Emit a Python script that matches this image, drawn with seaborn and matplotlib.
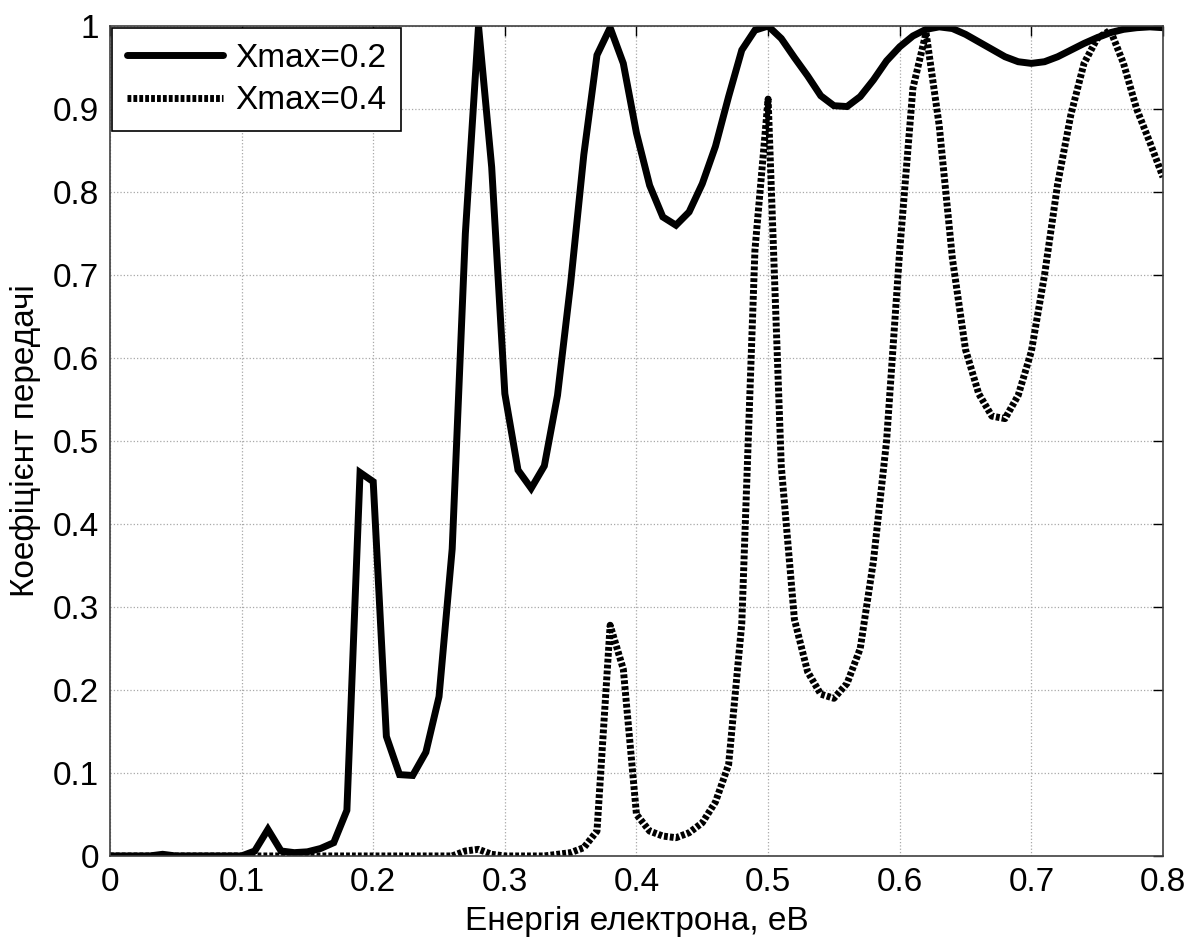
# Transmission coefficient vs electron energy for two barrier widths
import numpy as np
import pandas as pd
import matplotlib
matplotlib.use("Agg")
import matplotlib.pyplot as plt
import seaborn as sns

# energy grid, eV (sampling step 0.01)
energy = np.linspace(0, 0.8, 81)

# transmission for Xmax=0.2
coef_02 = [
    0, 0, 0, 0, 0.002, 0, 0, 0, 0, 0, 0,
    0.006, 0.032, 0.006, 0.004, 0.005, 0.009, 0.016, 0.055, 0.462, 0.451,
    0.144, 0.098, 0.097, 0.125, 0.192, 0.37, 0.75, 1.0, 0.83, 0.557,
    0.465, 0.443, 0.47, 0.555, 0.69, 0.845, 0.965, 0.998, 0.955, 0.871,
    0.808, 0.77, 0.76, 0.776, 0.81, 0.855, 0.915, 0.971, 0.995, 1.0,
    0.985, 0.962, 0.94, 0.916, 0.904, 0.903, 0.915, 0.935, 0.958, 0.975,
    0.988, 0.996, 0.999, 0.997, 0.99, 0.981, 0.972, 0.963, 0.957, 0.955,
    0.957, 0.963, 0.971, 0.979, 0.986, 0.992, 0.996, 0.998, 0.999, 0.998,
]

# transmission for Xmax=0.4
coef_04 = [
    0, 0, 0, 0, 0, 0, 0, 0, 0, 0, 0,
    0, 0, 0, 0, 0, 0, 0, 0, 0, 0,
    0, 0, 0, 0, 0, 0, 0.006, 0.008, 0.002, 0,
    0, 0, 0, 0.002, 0.004, 0.01, 0.03, 0.278, 0.225, 0.05,
    0.03, 0.024, 0.022, 0.028, 0.04, 0.065, 0.11, 0.28, 0.73, 0.912,
    0.47, 0.285, 0.222, 0.195, 0.19, 0.208, 0.25, 0.355, 0.50, 0.73,
    0.925, 0.992, 0.88, 0.72, 0.61, 0.557, 0.53, 0.527, 0.555, 0.608,
    0.70, 0.81, 0.893, 0.955, 0.985, 0.995, 0.955, 0.9, 0.86, 0.818,
]

series_names = ["Xmax=0.2", "Xmax=0.4"]
x_ticks = [0, 0.1, 0.2, 0.3, 0.4, 0.5, 0.6, 0.7, 0.8]
y_ticks = [0, 0.1, 0.2, 0.3, 0.4, 0.5, 0.6, 0.7, 0.8, 0.9, 1]

df = pd.DataFrame({
    "energy": np.concatenate([energy, energy]),
    "coef": coef_02 + coef_04,
    "series": [series_names[0]] * len(energy) + [series_names[1]] * len(energy),
})

sns.set_style("white")
plt.rcParams["font.family"] = ["Liberation Sans", "DejaVu Sans"]
plt.rcParams["text.color"] = "black"
plt.rcParams["axes.labelcolor"] = "black"
plt.rcParams["xtick.color"] = "black"
plt.rcParams["ytick.color"] = "black"

fig = plt.figure(figsize=(11.9, 9.4), dpi=100)
ax = fig.add_axes([0.0924, 0.0894, 0.8849, 0.8829])

sns.lineplot(
    data=df, x="energy", y="coef", hue="series", style="series",
    palette=["black", "black"],
    dashes={series_names[0]: "", series_names[1]: (0.55, 0.3)},
    linewidth=5, ax=ax, legend=True, estimator=None, sort=False,
)
for line in ax.lines:
    line.set_dash_capstyle("butt")
    line.set_solid_joinstyle("miter")

ax.set_xlim(0, 0.8)
ax.set_ylim(0, 1)
ax.set_xticks(x_ticks)
ax.set_yticks(y_ticks)
ax.set_xticklabels([f"{t:g}" for t in x_ticks])
ax.set_yticklabels([f"{t:g}" for t in y_ticks])
ax.grid(True, linestyle=":", color="#a8a8a8", linewidth=0.9)
ax.tick_params(direction="in", length=7, width=1, top=True, right=True,
               labelsize=24, pad=8, colors="black")
for s in ax.spines.values():
    s.set_color("#404040")
    s.set_linewidth(1.2)

ax.set_xlabel("Енергія електрона, еВ", fontsize=24, labelpad=6)
ax.set_ylabel("Коефіцієнт передачі", fontsize=24, labelpad=8)

leg = ax.legend(loc="upper left", fontsize=24, frameon=True, fancybox=False,
                edgecolor="black", framealpha=1, borderaxespad=0.05,
                handlelength=2.9, handletextpad=0.35, labelspacing=0.35,
                borderpad=0.45)
leg.get_frame().set_linewidth(1.2)
for h in leg.get_lines():
    h.set_linewidth(5)
    h.set_dash_capstyle("butt")

plt.savefig("out.png", dpi=100)
